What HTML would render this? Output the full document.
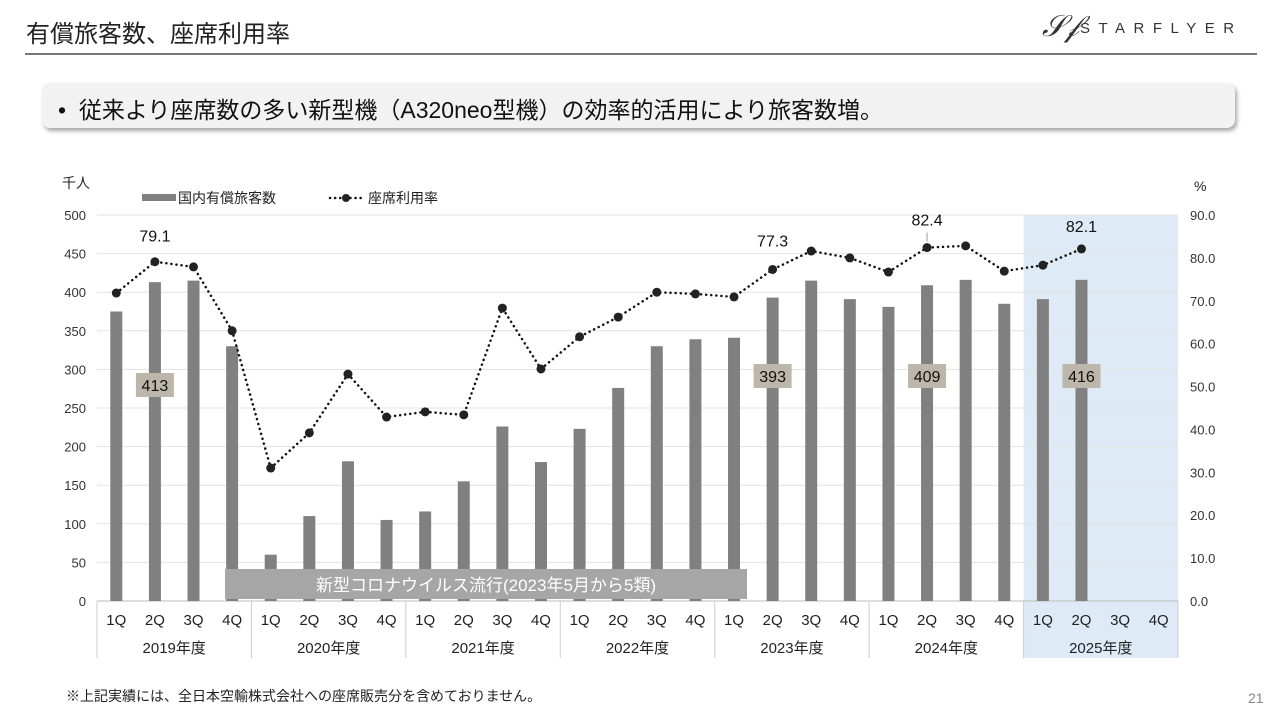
<!DOCTYPE html>
<html><head><meta charset="utf-8"><style>
body{margin:0;width:1280px;height:720px;background:#fff;overflow:hidden;font-family:"Liberation Sans","Noto Sans CJK JP",sans-serif;position:relative}
.abs{position:absolute}
</style></head><body>
<div class="abs" style="left:26px;top:14px;font-size:24px;color:#222">有償旅客数、座席利用率</div>
<div class="abs" style="left:25px;top:53px;width:1232px;height:2px;background:#777"></div>
<div class="abs" style="left:1042px;top:12px;width:210px;height:34px">
<span style="position:absolute;left:0;top:-2px;font-family:'Liberation Serif',serif;font-style:italic;font-size:30px;color:#333">𝒮𝒻</span>
<span style="position:absolute;left:38px;top:8px;font-size:15px;letter-spacing:8.5px;color:#333">STARFLYER</span></div>
<div class="abs" style="left:42px;top:83px;width:1193px;height:45px;background:#f2f2f2;border-radius:8px;box-shadow:2px 3px 4px rgba(0,0,0,0.35)">
<span style="position:absolute;left:16px;top:8px;font-size:23px;color:#111">•&nbsp;&nbsp;従来より座席数の多い新型機（A320neo型機）の効率的活用により旅客数増。</span></div>
<svg id="chart" class="abs" style="left:0;top:0" width="1280" height="720"></svg>
<div class="abs" style="left:66px;top:686px;font-size:14px;color:#222">※上記実績には、全日本空輸株式会社への座席販売分を含めておりません。</div>
<div class="abs" style="left:1248px;top:690px;font-size:14px;color:#888">21</div>
<script>
const years=["2019年度","2020年度","2021年度","2022年度","2023年度","2024年度","2025年度"];
const quarters=["1Q","2Q","3Q","4Q"];
const passengers=[375,413,415,330,60,110,181,105,116,155,226,180,223,276,330,339,341,393,415,391,381,409,416,385,391,416,null,null];
const loadFactor=[71.8,79.1,77.9,63.0,31.0,39.2,52.9,42.9,44.1,43.4,68.3,54.1,61.6,66.2,72.0,71.6,70.9,77.3,81.6,80.0,76.7,82.4,82.8,76.9,78.3,82.1,null,null];
const leftTicks=[0,50,100,150,200,250,300,350,400,450,500];
const rightTicks=[0,10,20,30,40,50,60,70,80,90];
const boxLabels=[[1,"413"],[17,"393"],[21,"409"],[25,"416"]];
const lineLabels=[[1,"79.1"],[17,"77.3"],[21,"82.4"],[25,"82.1"]];
const svg=document.getElementById('chart');const NS='http://www.w3.org/2000/svg';
const X0=97,X1=1178,Y0=601,Y1=215,slot=(X1-X0)/28;
const xc=i=>X0+slot*(i+0.5);const yL=v=>Y0-(v/500)*(Y0-Y1);const yR=v=>Y0-(v/90)*(Y0-Y1);
function el(t,a,txt){const e=document.createElementNS(NS,t);for(const k in a)e.setAttribute(k,a[k]);if(txt!=null)e.textContent=txt;svg.appendChild(e);return e;}
let e;
e=el('rect',{x:X0+slot*24,y:Y1,width:slot*4,height:658-Y1,fill:'#deebf7'});


leftTicks.forEach(v=>{e=el('line',{x1:X0,x2:X1,y1:yL(v),y2:yL(v),stroke:v==0?'#bbb':'#e3e3e3','stroke-width':1});


e=el('text',{x:86,y:yL(v)+5,'text-anchor':'end','font-size':13,fill:'#333'},v);

});
rightTicks.forEach(v=>{e=el('text',{x:1190,y:yR(v)+5,'font-size':13,fill:'#333'},v.toFixed(1));

});
e=el('text',{x:62,y:188,'font-size':14,fill:'#222'},'千人');


e=el('text',{x:1194,y:191,'font-size':14,fill:'#222'},'%');


passengers.forEach((v,i)=>{if(v==null)return;e=el('rect',{x:xc(i)-6,y:yL(v),width:12,height:Y0-yL(v),fill:'#808080'});

});
e=el('rect',{x:225,y:569,width:522,height:30,fill:'#a6a6a6'});


e=el('text',{x:486,y:591,'text-anchor':'middle','font-size':17,fill:'#fff'},'新型コロナウイルス流行(2023年5月から5類)');


let pts=[];loadFactor.forEach((v,i)=>{if(v!=null)pts.push(xc(i)+','+yR(v));});
e=el('polyline',{points:pts.join(' '),fill:'none',stroke:'#111','stroke-width':2.5,'stroke-dasharray':'0.1 5','stroke-linecap':'round'});


loadFactor.forEach((v,i)=>{if(v==null)return;e=el('circle',{cx:xc(i),cy:yR(v),r:4.5,fill:'#222'});

});
boxLabels.forEach(([i,t])=>{const cy=i==1?385:376;
e=el('rect',{x:xc(i)-19,y:cy-12,width:38,height:24,fill:'#bdb6aa'});


e=el('text',{x:xc(i),y:cy+6,'text-anchor':'middle','font-size':16,fill:'#111'},t);

});
const labelOff={1:-20,17:-23,21:-22,25:-17};
lineLabels.forEach(([i,t])=>{const off=labelOff[i];
if(i==21){e=el('line',{x1:xc(i),x2:xc(i),y1:yR(loadFactor[i])-6,y2:yR(loadFactor[i])+off+7,stroke:'#999'});

}
e=el('text',{x:xc(i),y:yR(loadFactor[i])+off,'text-anchor':'middle','font-size':16,fill:'#111'},t);

});
for(let i=0;i<28;i++){e=el('text',{x:xc(i),y:625,'text-anchor':'middle','font-size':15,fill:'#222'},quarters[i%4]);

}
years.forEach((y,k)=>{e=el('text',{x:X0+slot*(4*k+2),y:653,'text-anchor':'middle','font-size':15,fill:'#222'},y);

});
for(let k=0;k<=7;k++){e=el('line',{x1:X0+slot*4*k,x2:X0+slot*4*k,y1:Y0,y2:658,stroke:'#ccc'});

}
e=el('rect',{x:142,y:194,width:34,height:7,fill:'#808080'});


e=el('text',{x:178,y:203,'font-size':14,fill:'#222'},'国内有償旅客数');


e=el('line',{x1:330,x2:362,y1:198,y2:198,stroke:'#111','stroke-width':2.5,'stroke-dasharray':'0.1 5','stroke-linecap':'round'});


e=el('circle',{cx:346,cy:198,r:4,fill:'#222'});


e=el('text',{x:368,y:203,'font-size':14,fill:'#222'},'座席利用率');


</script>
</body></html>
